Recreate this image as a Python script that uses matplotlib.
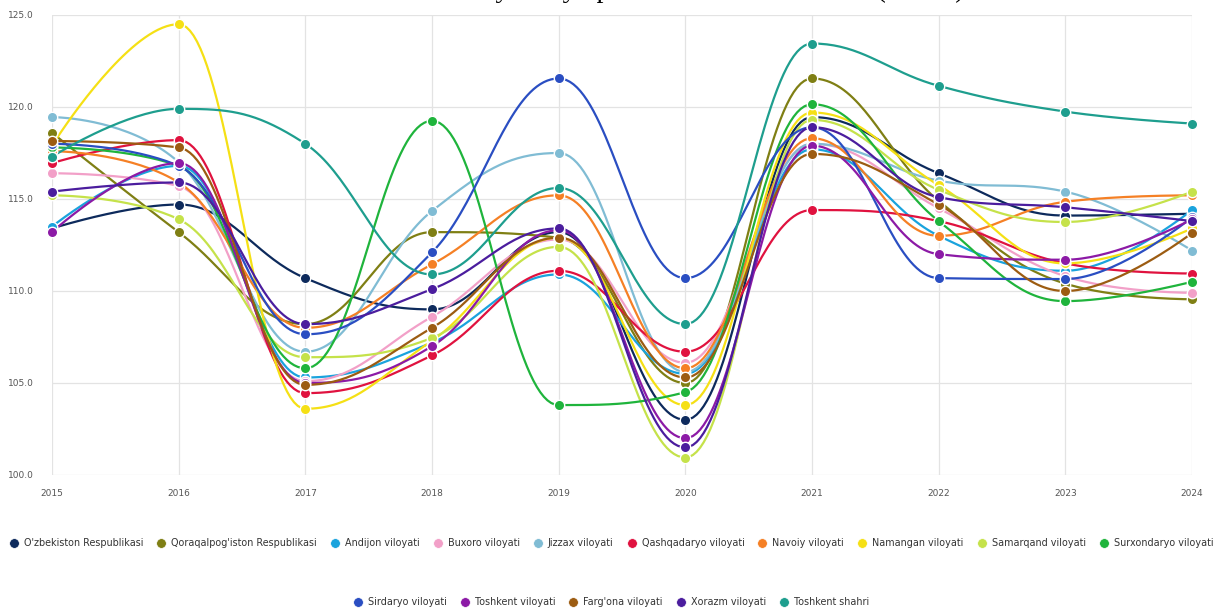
import numpy as np
import matplotlib
matplotlib.use('Agg')
import matplotlib.pyplot as plt

years = [2015, 2016, 2017, 2018, 2019, 2020, 2021, 2022, 2023, 2024]

names = ["O'zbekiston Respublikasi", "Qoraqalpog'iston Respublikasi", "Andijon viloyati",
         "Buxoro viloyati", "Jizzax viloyati", "Qashqadaryo viloyati", "Navoiy viloyati",
         "Namangan viloyati", "Samarqand viloyati", "Surxondaryo viloyati",
         "Sirdaryo viloyati", "Toshkent viloyati", "Farg'ona viloyati", "Xorazm viloyati",
         "Toshkent shahri"]

colors = ['#0d2a5c', '#7f7f14', '#1aa3dd', '#f2a0c8', '#80bcd4', '#e0123f', '#f58025',
          '#f5e015', '#c5e24a', '#1fb43c', '#2a4ec2', '#8c1aa6', '#9c5c12', '#4b1d9e',
          '#1e9e8e']

uzbekiston = [113.4, 114.7, 110.7, 109.0, 113.2, 103.0, 119.45, 116.4, 114.1, 114.2]
qoraqalpogiston = [118.6, 113.2, 108.2, 113.2, 112.9, 105.0, 121.55, 114.9, 110.4, 109.55]
andijon = [113.5, 116.8, 105.3, 107.2, 110.9, 105.5, 117.7, 113.0, 111.1, 114.4]
buxoro = [116.4, 115.7, 105.1, 108.6, 112.8, 106.1, 118.0, 114.5, 110.8, 109.9]
jizzax = [119.45, 117.0, 106.7, 114.35, 117.5, 105.6, 118.0, 116.0, 115.4, 112.2]
qashqadaryo = [116.95, 118.2, 104.45, 106.5, 111.1, 106.7, 114.4, 113.8, 111.5, 110.95]
navoiy = [117.6, 115.9, 108.0, 111.45, 115.2, 105.8, 118.3, 113.0, 114.85, 115.2]
namangan = [117.9, 124.5, 103.6, 107.3, 112.9, 103.8, 119.7, 115.75, 111.5, 113.4]
samarqand = [115.2, 113.9, 106.4, 107.45, 112.4, 100.95, 119.3, 115.5, 113.75, 115.4]
surxondaryo = [117.8, 116.8, 105.8, 119.25, 103.8, 104.5, 120.15, 113.8, 109.45, 110.5]
sirdaryo = [118.0, 116.8, 107.65, 112.1, 121.55, 110.7, 118.9, 110.7, 110.65, 114.0]
toshkent_vil = [113.2, 116.95, 105.0, 107.0, 113.3, 102.0, 117.9, 112.0, 111.7, 113.9]
fargona = [118.15, 117.8, 104.9, 108.0, 112.9, 105.3, 117.45, 114.7, 110.0, 113.15]
xorazm = [115.4, 115.9, 108.2, 110.1, 113.4, 101.5, 118.9, 115.1, 114.55, 113.8]
toshkent_sh = [117.3, 119.9, 118.0, 110.9, 115.6, 108.2, 123.45, 121.15, 119.75, 119.1]

series = [uzbekiston, qoraqalpogiston, andijon, buxoro, jizzax, qashqadaryo, navoiy,
          namangan, samarqand, surxondaryo, sirdaryo, toshkent_vil, fargona, xorazm,
          toshkent_sh]


def spline_xy(xs, ys, steps=40):
    # smooth curve without false extremes (control points clamped)
    n = len(xs)
    sm = 1.5
    den = sm + 1
    left = [None] * n
    right = [None] * n
    for i in range(1, n - 1):
        px, py = xs[i], ys[i]
        lx, ly = xs[i - 1], ys[i - 1]
        nx, ny = xs[i + 1], ys[i + 1]
        lcx = (sm * px + lx) / den
        lcy = (sm * py + ly) / den
        rcx = (sm * px + nx) / den
        rcy = (sm * py + ny) / den
        corr = (rcy - lcy) * (rcx - px) / (rcx - lcx) + py - rcy
        lcy += corr
        rcy += corr
        if lcy > ly and lcy > py:
            lcy = max(ly, py)
            rcy = 2 * py - lcy
        elif lcy < ly and lcy < py:
            lcy = min(ly, py)
            rcy = 2 * py - lcy
        if rcy > ny and rcy > py:
            rcy = max(ny, py)
            lcy = 2 * py - rcy
        elif rcy < ny and rcy < py:
            rcy = min(ny, py)
            lcy = 2 * py - rcy
        left[i] = (lcx, lcy)
        right[i] = (rcx, rcy)
    t = np.linspace(0, 1, steps)[1:]
    out_x, out_y = [xs[0]], [ys[0]]
    for i in range(1, n):
        p0 = np.array([xs[i - 1], ys[i - 1]], float)
        p3 = np.array([xs[i], ys[i]], float)
        p1 = np.array(right[i - 1]) if right[i - 1] else p0
        p2 = np.array(left[i]) if left[i] else p3
        for tt in t:
            pt = ((1 - tt) ** 3) * p0 + 3 * ((1 - tt) ** 2) * tt * p1 \
                + 3 * (1 - tt) * tt ** 2 * p2 + tt ** 3 * p3
            out_x.append(pt[0])
            out_y.append(pt[1])
    return out_x, out_y


fig = plt.figure(figsize=(12.15, 6.1), dpi=100)
ax = fig.add_axes([52 / 1215, 1 - 475 / 610, 1140 / 1215, 460 / 610])

for vals, col in zip(series, colors):
    sx, sy = spline_xy(years, vals)
    ax.plot(sx, sy, color=col, lw=1.6, zorder=2, solid_capstyle='round')
for vals, col in zip(series, colors):
    ax.plot(years, vals, 'o', color=col, ms=7.5, mec='white', mew=1.0, zorder=3,
            clip_on=False)

ax.set_xlim(2015, 2024)
ax.set_ylim(100, 125)
ax.set_xticks(years)
ax.set_yticks([100, 105, 110, 115, 120, 125])
ax.set_yticklabels([f'{v:.1f}' for v in [100, 105, 110, 115, 120, 125]])
ax.grid(True, color='#e3e3e3', lw=0.9, zorder=0)
for s in ax.spines.values():
    s.set_visible(False)
ax.tick_params(length=0, labelsize=6.5, colors='#555555')
ax.tick_params(axis='y', pad=13)
ax.tick_params(axis='x', pad=10)

# page title above the chart, only its lowest edge shows in the crop
fig.text(0.541, 1.005, "Hududlar bo'yicha yalpi mahsulot o'sish sur'ati (foizda)",
         ha='center', va='baseline', fontsize=20, family='Liberation Serif',
         color='black')

# legend drawn by hand, two centred rows
fig.canvas.draw()
renderer = fig.canvas.get_renderer()
rows = [list(range(10)), list(range(10, 15))]
row_y = [543, 602]
dot, gap1, gap2 = 10, 5, 13


def text_widths(row, size):
    ws = []
    for k in row:
        t = fig.text(0, 0, names[k], fontsize=size)
        ws.append(t.get_window_extent(renderer).width)
        t.remove()
    return ws


# fit the first row into about 1200 px
base = 7.0
w0 = text_widths(rows[0], base)
avail = 1198 - (dot + gap1) * len(rows[0]) - gap2 * (len(rows[0]) - 1)
fsize = base * avail / sum(w0)

for row, ypx in zip(rows, row_y):
    widths = text_widths(row, fsize)
    total = sum(dot + gap1 + w for w in widths) + gap2 * (len(row) - 1)
    x = 611 - total / 2
    for k, w in zip(row, widths):
        fig.lines.append(plt.Line2D([(x + dot / 2) / 1215], [1 - ypx / 610], marker='o',
                                    ms=7, color=colors[k], mec='white', mew=0.5,
                                    transform=fig.transFigure))
        fig.text((x + dot + gap1) / 1215, 1 - ypx / 610, names[k], fontsize=fsize,
                 color='#333333', va='center', ha='left')
        x += dot + gap1 + w + gap2

fig.savefig('out.png', dpi=100)
